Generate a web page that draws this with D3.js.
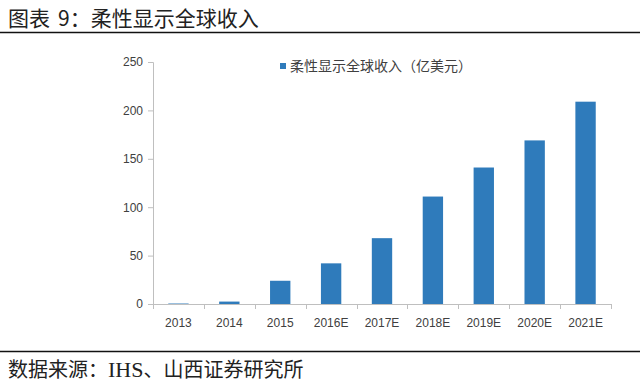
<!DOCTYPE html>
<html>
<head>
<meta charset="utf-8">
<script src="https://cdn.jsdelivr.net/npm/d3@7"></script>
<style>
  body { margin: 0; background: #fff; }
  svg { display: block; }
</style>
</head>
<body>
<script>
const width = 640;
const height = 385;

// data
const years = ["2013", "2014", "2015", "2016E", "2017E", "2018E", "2019E", "2020E", "2021E"];
const revenue = [0.5, 2.5, 24, 42, 68, 111, 141, 169, 209];
const yTicks = [0, 50, 100, 150, 200, 250];

const titleParts = ["图表", "9：柔性显示全球收入"];
const seriesName = "柔性显示全球收入（亿美元）";
const sourceParts = ["数据来源：", "IHS", "、山西证券研究所"];

const svg = d3.select("body")
    .append("svg")
    .attr("width", width)
    .attr("height", height);

const cjk = "'Noto Sans CJK SC', 'Noto Sans', sans-serif";
const serif = "'Liberation Serif', 'DejaVu Serif', serif";

// title + rules
const title = svg.append("text")
    .attr("x", 8).attr("y", 26)
    .attr("font-family", cjk)
    .attr("font-size", 21)
    .attr("fill", "#222");
title.append("tspan").text(titleParts[0]);
title.append("tspan").attr("dx", 8).text(titleParts[1]);

svg.append("line")
    .attr("x1", 0).attr("x2", width)
    .attr("y1", 32.5).attr("y2", 32.5)
    .attr("stroke", "#111").attr("stroke-width", 1.5);

svg.append("line")
    .attr("x1", 0).attr("x2", width)
    .attr("y1", 351.5).attr("y2", 351.5)
    .attr("stroke", "#111").attr("stroke-width", 1.5);

const source = svg.append("text")
    .attr("x", 8).attr("y", 377)
    .attr("font-family", cjk)
    .attr("font-size", 20)
    .attr("fill", "#222");
source.append("tspan").text(sourceParts[0]);
source.append("tspan").attr("font-family", serif).attr("font-size", 22).text(sourceParts[1]);
source.append("tspan").text(sourceParts[2]);

// plot area
const plotLeft = 153, plotRight = 611, plotTop = 62, plotBottom = 304;

const x = d3.scaleBand()
    .domain(years)
    .range([plotLeft, plotRight])
    .paddingInner(0.6)
    .paddingOuter(0.3);

const y = d3.scaleLinear()
    .domain([0, 250])
    .range([plotBottom, plotTop]);

const axisColor = "#bfbfbf";
const labelColor = "#404040";

// y axis
const yAxis = svg.append("g")
    .attr("transform", `translate(${plotLeft},0)`)
    .call(d3.axisLeft(y).tickValues(yTicks).tickSize(5).tickPadding(5));
yAxis.select(".domain").attr("stroke", axisColor).attr("d", `M-5,${plotTop + 0.5}H0.5V${plotBottom}`);
yAxis.selectAll(".tick line").attr("stroke", axisColor);
yAxis.selectAll(".tick text")
    .attr("fill", labelColor)
    .attr("font-family", "'Liberation Sans', Arial, sans-serif")
    .attr("font-size", 12);

// bars
svg.selectAll("rect.bar")
    .data(revenue)
    .enter()
    .append("rect")
    .attr("class", "bar")
    .attr("x", (d, i) => x(years[i]))
    .attr("width", x.bandwidth())
    .attr("y", d => y(d))
    .attr("height", d => plotBottom - y(d))
    .attr("fill", "#2f7bbb");

// x axis (ticks at category boundaries)
const step = (plotRight - plotLeft) / years.length;
const xg = svg.append("g");
xg.append("line")
    .attr("x1", plotLeft).attr("x2", plotRight)
    .attr("y1", plotBottom + 0.5).attr("y2", plotBottom + 0.5)
    .attr("stroke", axisColor);
xg.selectAll("line.tk")
    .data(d3.range(years.length + 1))
    .enter()
    .append("line")
    .attr("class", "tk")
    .attr("x1", i => Math.round(plotLeft + i * step) + 0.5)
    .attr("x2", i => Math.round(plotLeft + i * step) + 0.5)
    .attr("y1", plotBottom).attr("y2", plotBottom + 5)
    .attr("stroke", axisColor);
xg.selectAll("text")
    .data(years)
    .enter()
    .append("text")
    .attr("x", d => x(d) + x.bandwidth() / 2)
    .attr("y", plotBottom + 23)
    .attr("text-anchor", "middle")
    .attr("fill", labelColor)
    .attr("font-family", "'Liberation Sans', Arial, sans-serif")
    .attr("font-size", 12)
    .text(d => d);

// legend
svg.append("rect")
    .attr("x", 280).attr("y", 63)
    .attr("width", 6).attr("height", 6)
    .attr("fill", "#2f7bbb");
svg.append("text")
    .attr("x", 290).attr("y", 71)
    .attr("font-family", cjk)
    .attr("font-size", 14)
    .attr("fill", labelColor)
    .text(seriesName);
</script>
</body>
</html>
